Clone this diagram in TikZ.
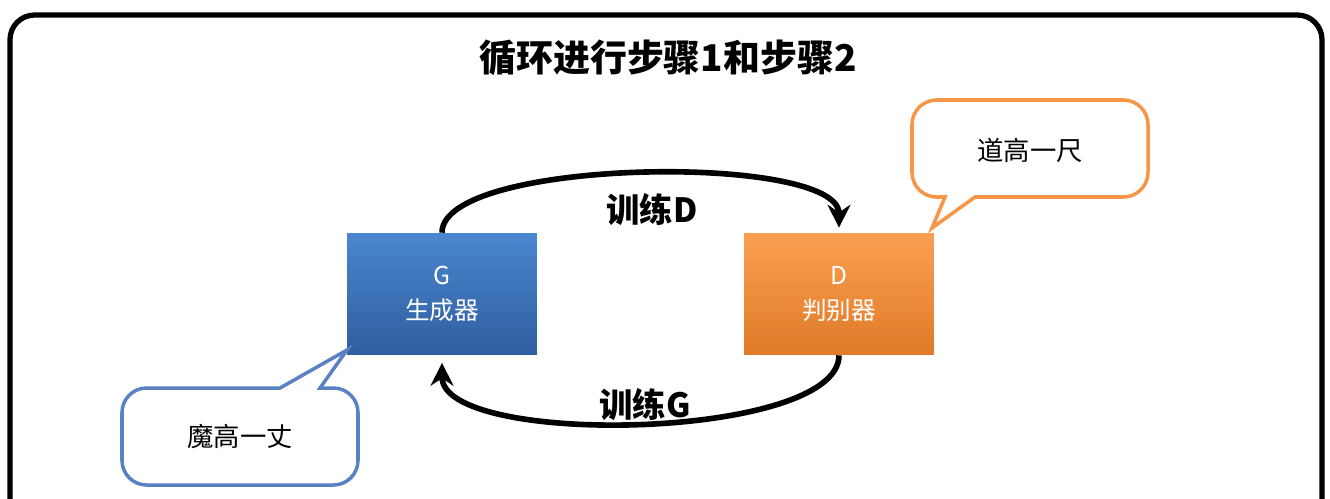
\documentclass[tikz,border=0pt]{standalone}
\usepackage{fontspec}
\setmainfont{Noto Sans CJK SC}
\usetikzlibrary{arrows.meta}
\begin{document}
\begin{tikzpicture}[x=0.02cm,y=-0.02cm,
  boxG/.style={minimum width=3.8cm,minimum height=2.44cm,text=white,align=center,font=\fontsize{14}{20}\selectfont},
  loop/.style={line width=3.2pt,-{Stealth[length=13pt,width=13pt]}},
  lab/.style={font=\fontsize{19}{21}\selectfont\bfseries}]
\definecolor{gtop}{RGB}{74,134,207}\definecolor{gbot}{RGB}{47,94,158}
\definecolor{otop}{RGB}{250,160,80}\definecolor{obot}{RGB}{224,122,40}
\definecolor{oline}{RGB}{247,150,70}\definecolor{bline}{RGB}{90,130,195}
\useasboundingbox (0,0) rectangle (1330,498);
\begin{scope}
\clip (0,0) rectangle (1330,498);
\draw[line width=3pt,rounded corners=14pt,fill=white] (10,15) rectangle (1322,540);
\end{scope}
\node[font=\fontsize{21}{23}\selectfont\bfseries] (title) at (668,58) {循环进行步骤1和步骤2};
\node[boxG,top color=gtop,bottom color=gbot,draw=none] (G) at (442,294) {G\\生成器};
\node[boxG,top color=otop,bottom color=obot,draw=none] (D) at (839,294) {D\\判别器};
\draw[loop] (G.north) .. controls +(0,-75) and +(0,-75) .. ([yshift=0.1cm]D.north);
\draw[loop] (D.south) .. controls +(0,85) and +(0,85) .. ([yshift=-0.15cm]G.south);
\node[lab] (tD) at (652,210) {训练D};
\node[lab] (tG) at (645,405) {训练G};
\coordinate (pd) at (932,228);
\coordinate (pg) at (347,350);
\draw[oline,line width=2pt,fill=white] (975,197) [rounded corners=14pt] -- (1148,197) -- (1148,100) -- (912,100) -- (912,197) [sharp corners] -- (945,197) -- (pd) -- cycle;
\draw[bline,line width=2pt,fill=white] (280,388) [rounded corners=14pt] -- (122,388) -- (122,485) -- (358,485) -- (358,388) [sharp corners] -- (320,388) -- (pg) -- cycle;
\node[font=\fontsize{15}{17}\selectfont] (c1) at (1030,150) {道高一尺};
\node[font=\fontsize{15}{17}\selectfont] (c2) at (240,437) {魔高一丈};
\end{tikzpicture}
\end{document}
